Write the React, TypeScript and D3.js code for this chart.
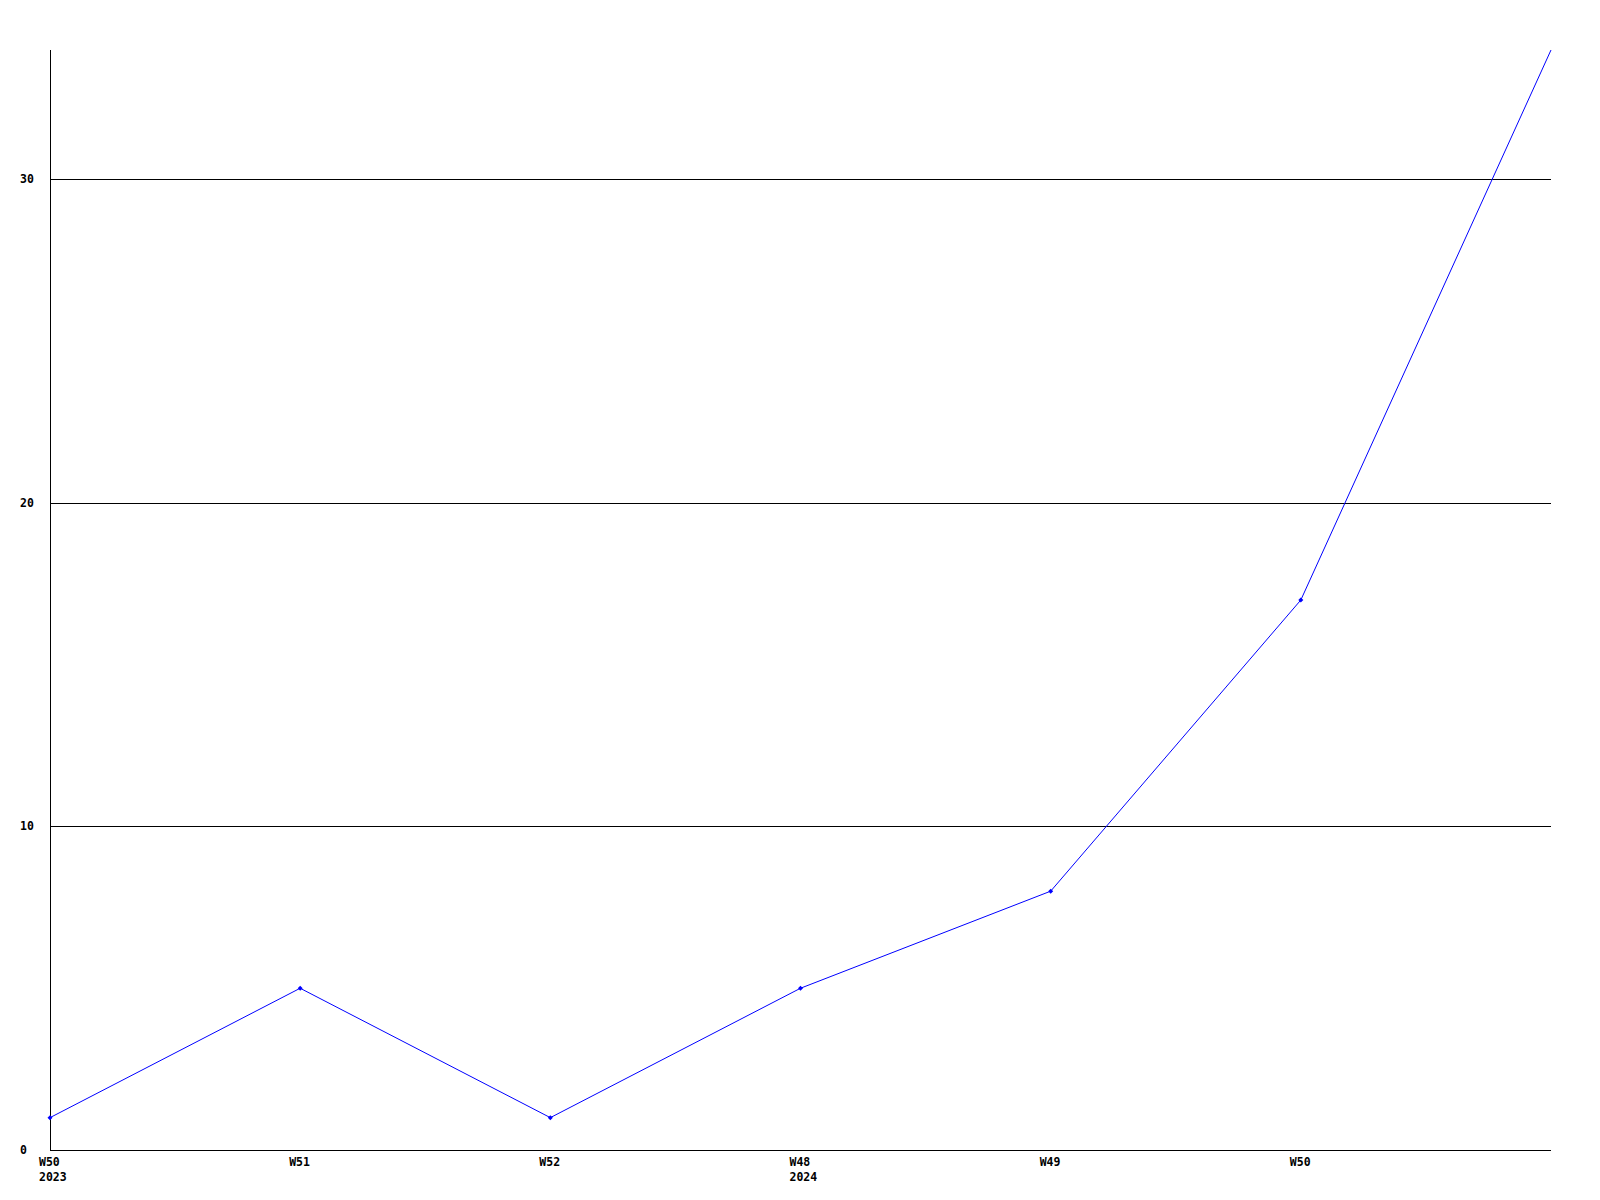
import React from "react";
import * as d3 from "d3";

const weeks = ["W50", "W51", "W52", "W48", "W49", "W50", ""];
const years = ["2023", "", "", "2024", "", "", ""];
const values = [1, 5, 1, 5, 8, 17, 34];
const yTicks = [0, 10, 20, 30];

export default function App() {
  const W = 1600, H = 1200;
  const left = 50, right = 1551, top = 50, bottom = 1150;
  const x = d3.scaleLinear().domain([0, values.length - 1]).range([left, right]);
  const y = d3.scaleLinear().domain([0, 34]).range([bottom, top]);
  const line = d3.line<number>().x((_, i) => x(i)).y((d) => y(d));
  const font = "'DejaVu Sans Mono', 'Liberation Mono', monospace";
  return (
    <svg width={W} height={H} style={{ position: "absolute", left: 0, top: 0, background: "#fff" }}>
      <rect width={W} height={H} fill="#fff" />
      {yTicks.filter((t) => t > 0).map((t) => (
        <line key={t} x1={left} x2={right} y1={Math.round(y(t)) + 0.5} y2={Math.round(y(t)) + 0.5} stroke="#000" strokeWidth={1} />
      ))}
      <line x1={left + 0.5} x2={left + 0.5} y1={top} y2={bottom + 1} stroke="#000" strokeWidth={1} />
      <line x1={left} x2={right} y1={bottom + 0.5} y2={bottom + 0.5} stroke="#000" strokeWidth={1} />
      {yTicks.map((t) => (
        <text key={t} x={20} y={y(t) + 4} fontFamily={font} fontWeight="bold" fontSize={11.5} fill="#000">{t}</text>
      ))}
      {weeks.map((w, i) => (
        <g key={i}>
          {w && <text x={x(i) - 11} y={bottom + 16} fontFamily={font} fontWeight="bold" fontSize={11.5} fill="#000">{w}</text>}
          {years[i] && <text x={x(i) - 11} y={bottom + 31} fontFamily={font} fontWeight="bold" fontSize={11.5} fill="#000">{years[i]}</text>}
        </g>
      ))}
      <path d={line(values) || ""} fill="none" stroke="#0000ff" strokeWidth={1} />
      {values.slice(0, values.length - 1).map((v, i) => (
        <path key={i} d={`M${x(i) - 2.5},${y(v)}L${x(i)},${y(v) - 2.5}L${x(i) + 2.5},${y(v)}L${x(i)},${y(v) + 2.5}Z`} fill="#0000ff" />
      ))}
    </svg>
  );
}
